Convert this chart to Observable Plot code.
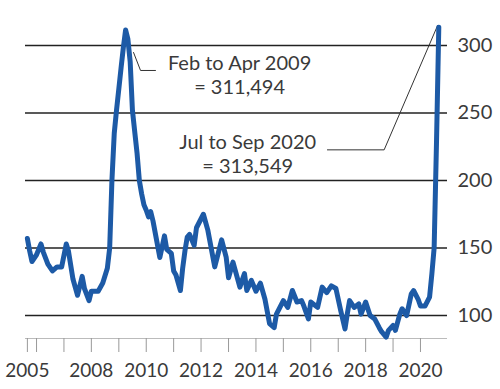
<!DOCTYPE html>
<html><head><meta charset="utf-8">
<script src="https://cdn.jsdelivr.net/npm/d3@7"></script>
<script src="https://cdn.jsdelivr.net/npm/@observablehq/plot@0.6"></script>
<style>body{margin:0;background:#fff;} svg{display:block;}</style>
</head><body><div id="chart"></div>
<script>
// Redundancies, thousands, rolling 3 months (plotted at end month)
const months = ["2005-09","2005-10","2005-11","2006-01","2006-03","2006-04","2006-06","2006-08","2006-10","2006-12",
"2007-02","2007-03","2007-05","2007-07","2007-09","2007-10","2007-12","2008-01","2008-04","2008-06","2008-08","2008-09",
"2008-10","2008-11","2008-12","2009-01","2009-02","2009-03","2009-04","2009-05","2009-06","2009-07","2009-08","2009-09",
"2009-10","2009-11","2009-12","2010-01","2010-02","2010-03","2010-04","2010-07","2010-09","2010-10","2010-12","2011-01",
"2011-02","2011-04","2011-05","2011-06","2011-07","2011-08","2011-10","2011-11","2012-02","2012-04","2012-07","2012-10",
"2012-12","2013-01","2013-03","2013-06","2013-08","2013-09","2013-11","2014-01","2014-03","2014-05","2014-07","2014-09",
"2014-10","2015-01","2015-03","2015-05","2015-07","2015-09","2015-10","2015-12","2016-01","2016-04","2016-06","2016-08",
"2016-10","2016-12","2017-02","2017-04","2017-05","2017-06","2017-08","2017-10","2017-11","2018-01","2018-03","2018-05",
"2018-07","2018-08","2018-10","2018-11","2019-01","2019-02","2019-04","2019-05","2019-07","2019-09","2019-10","2019-12",
"2020-01","2020-03","2020-05","2020-06","2020-07","2020-08","2020-09"];
const values = [157,148,140,145,153,147,138,133,136,136,
153,148,127,115,129,120,111,118,118,124,135,150,
200,235,252,268,284,298,311.5,305,288,252,236,220,
200,190,182,178,173,177,170,143,159,149,146,133,
130,118.5,135,148,158,160,152,165,175,163,136,156,
143,128,139.5,121,131,118.5,126,118,124,112,94,91,
101,111,106,118.5,110,111,107,97.5,110,106,121,117,
122,120,104,90,101,111,106,108.6,101,110,100,97.5,
91,88,84,89,92.6,89,101,105,100,116,118.5,112,
107,107,113.6,131,150,227,313.5];

const yTicks = [100,150,200,250,300];
const xTickDates = ["2005-09","2006-01","2007-01","2008-01","2009-01","2010-01","2011-01","2012-01","2013-01","2014-01","2015-01","2016-01","2017-01","2018-01","2019-01","2020-01"];
const xTickLabels = ["2005","","","2008","","2010","","2012","","2014","","2016","","2018","","2020"];

const annotationTexts = ["Feb to Apr 2009\n= 311,494","Jul to Sep 2020\n= 313,549"];
const annotationDates = ["2013-05-28","2013-09-13"];
const annotationValues = [278.5,220];

const connector1Dates = ["2009-07-16","2009-10-17","2010-05-04"];
const connector1Values = [294.8,281.5,281.5];
const connector2Dates = ["2016-08-10","2018-09-04","2020-08-16"];
const connector2Values = [222.7,222.7,314.8];

const parseM = d3.utcParse("%Y-%m");
const parseD = d3.utcParse("%Y-%m-%d");
const series = months.map((m,i)=>({date: parseM(m), value: values[i]}));
const ticks = xTickDates.map(parseM);
const labelMap = new Map(ticks.map((t,i)=>[+t, xTickLabels[i]]));
const notes = annotationTexts.map((t,i)=>({text:t, date: parseD(annotationDates[i]), value: annotationValues[i]}));
const c1 = connector1Dates.map((d,i)=>({date: parseD(d), value: connector1Values[i]}));
const c2 = connector2Dates.map((d,i)=>({date: parseD(d), value: connector2Values[i]}));

const yDomain = [82.96, 318.52];
const textColor = "#3a3a3a";

const chart = Plot.plot({
  width: 500, height: 389,
  marginLeft: 25, marginRight: 53, marginTop: 20, marginBottom: 51,
  style: {fontFamily: "Lato, sans-serif", background: "#fff", overflow: "visible"},
  x: {type: "utc", domain: [new Date(Date.UTC(2005,7,7)), new Date(Date.UTC(2020,11,26))]},
  y: {domain: yDomain},
  marks: [
    Plot.ruleY(yTicks, {stroke: "#222", strokeWidth: 1.6}),
    Plot.ruleY([yDomain[0]], {stroke: "#bbb", strokeWidth: 1}),
    Plot.axisX({ticks: ticks, tickSize: 14, tickFormat: () => "", stroke: "#999", label: null}),
    Plot.axisX({ticks: ticks, tickSize: 0, tickPadding: 25, tickFormat: d => labelMap.get(+d) ?? "", fontSize: 19, fill: textColor, label: null}),
    Plot.axisY({anchor: "right", ticks: yTicks, tickSize: 0, tickPadding: 10, fontSize: 20, fill: textColor, label: null}),
    Plot.line(c1, {x: "date", y: "value", stroke: "#333", strokeWidth: 1}),
    Plot.line(c2, {x: "date", y: "value", stroke: "#333", strokeWidth: 1}),
    Plot.text(notes, {x: "date", y: "value", text: "text", fontSize: 20, lineHeight: 1.2, fill: textColor, textAnchor: "middle"}),
    Plot.lineY(series, {x: "date", y: "value", stroke: "#1d5aa6", strokeWidth: 5, strokeLinejoin: "round", strokeLinecap: "round"})
  ]
});
document.getElementById("chart").appendChild(chart);
</script>
</body></html>
